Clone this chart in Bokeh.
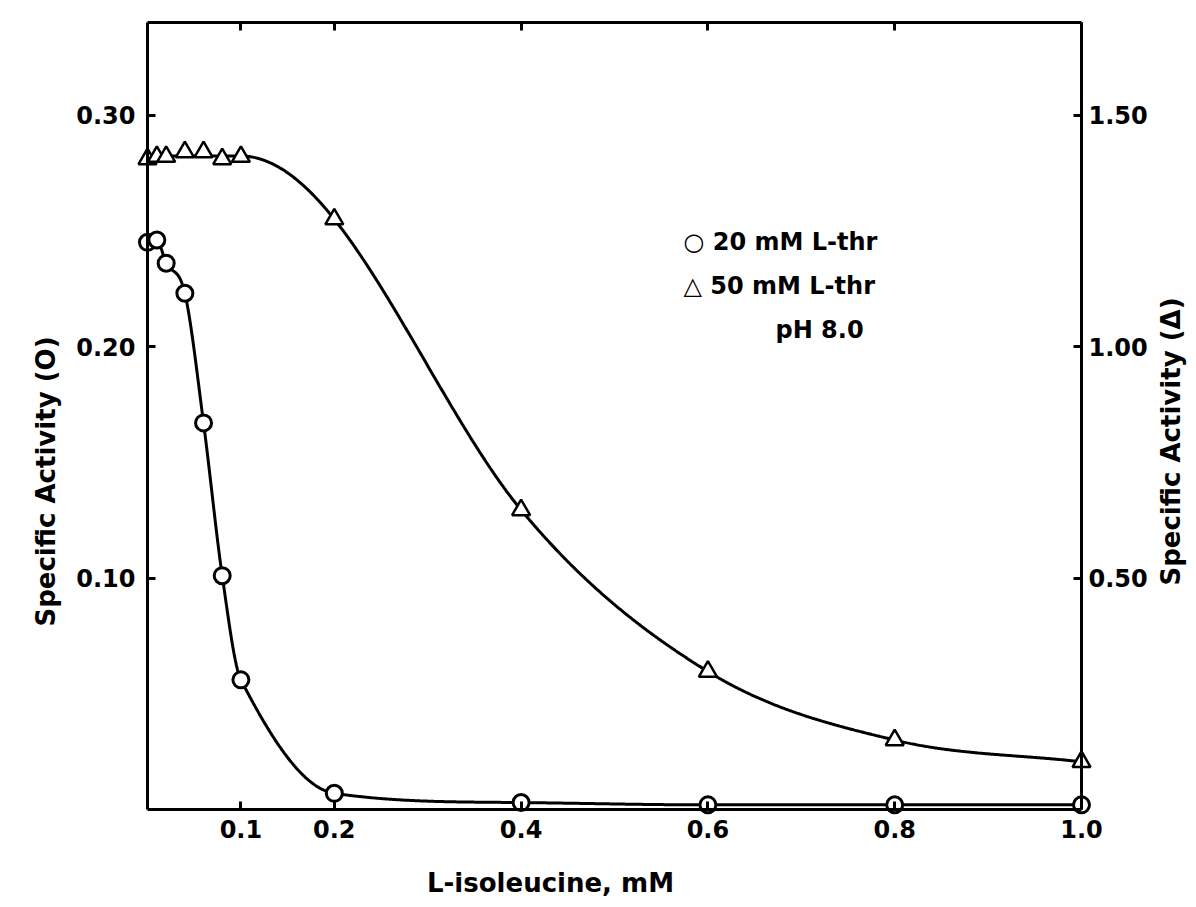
import numpy as np
from bokeh.plotting import figure
from bokeh.models import Range1d, LinearAxis, FixedTicker, PrintfTickFormatter, Label
from bokeh.embed import file_html
from bokeh.resources import INLINE

# ---------------- data ----------------
iso_20 = [0.0, 0.01, 0.02, 0.04, 0.06, 0.08, 0.10, 0.2, 0.4, 0.6, 0.8, 1.0]
act_20 = [0.245, 0.246, 0.236, 0.223, 0.167, 0.101, 0.056, 0.007, 0.003, 0.002, 0.002, 0.002]
iso_50 = [0.0, 0.01, 0.02, 0.04, 0.06, 0.08, 0.10, 0.2, 0.4, 0.6, 0.8, 1.0]
act_50 = [1.405, 1.41, 1.41, 1.42, 1.42, 1.405, 1.41, 1.275, 0.647, 0.298, 0.15, 0.103]

x_ticks = [0.1, 0.2, 0.4, 0.6, 0.8, 1.0]
left_ticks = [0.10, 0.20, 0.30]
right_ticks = [0.50, 1.00, 1.50]

x_title = "L-isoleucine, mM"
left_title = "Specific Activity (O)"
right_title = "Specific Activity (\u0394)"
legend_rows = ["\u25cb 20 mM L-thr", "\u25b3 50 mM L-thr", "pH 8.0"]

# ---------------- layout constants ----------------
W, H = 1196, 907
X0_PX, PX_PER_X = 147.0, 934.0      # screen x of iso = 0, pixels per mM
Y0_PX, PX_PER_Y = 809.0, 2315.0     # screen y of activity = 0, pixels per unit (left axis)
RIGHT_FACTOR = 5.0                  # right axis = 5 x left axis
Y_TOP = 0.34
FONT = "DejaVu Sans"


def data_x(px):
    return (px - X0_PX) / PX_PER_X


def data_y(py):
    return (Y0_PX - py) / PX_PER_Y


def monotone_curve(xk, yk, xs):
    xk = np.asarray(xk, float)
    yk = np.asarray(yk, float)
    n = len(xk)
    h = np.diff(xk)
    d = np.diff(yk) / h
    m = np.zeros(n)
    m[0] = d[0]
    m[-1] = d[-1]
    for k in range(1, n - 1):
        if d[k - 1] * d[k] <= 0:
            m[k] = 0.0
        else:
            m[k] = (yk[k + 1] - yk[k - 1]) / (xk[k + 1] - xk[k - 1])
    for k in range(n - 1):
        if d[k] == 0:
            m[k] = 0.0
            m[k + 1] = 0.0
            continue
        a = m[k] / d[k]
        b = m[k + 1] / d[k]
        if a < 0:
            m[k] = 0.0
            a = 0.0
        if b < 0:
            m[k + 1] = 0.0
            b = 0.0
        s = a * a + b * b
        if s > 9:
            tau = 3.0 / np.sqrt(s)
            m[k] = tau * a * d[k]
            m[k + 1] = tau * b * d[k]
    idx = np.clip(np.searchsorted(xk, xs, side="right") - 1, 0, n - 2)
    t = (xs - xk[idx]) / h[idx]
    h00 = 2 * t**3 - 3 * t**2 + 1
    h10 = t**3 - 2 * t**2 + t
    h01 = -2 * t**3 + 3 * t**2
    h11 = t**3 - t**2
    return h00 * yk[idx] + h10 * h[idx] * m[idx] + h01 * yk[idx + 1] + h11 * h[idx] * m[idx + 1]


xs = np.linspace(0.0, 1.0, 800)
curve_20 = monotone_curve(iso_20, act_20, xs)

a50x = np.asarray(iso_50)
a50y = np.asarray(act_50)
flat = a50x <= 0.10
mean_flat = a50y[flat].mean()
nodes_x = np.concatenate([[a50x[flat].min(), a50x[flat].max()], a50x[~flat]])
nodes_y = np.concatenate([[mean_flat, mean_flat], a50y[~flat]])
curve_50 = monotone_curve(nodes_x, nodes_y, xs)

x_start, x_end = data_x(0), data_x(W)
y_start, y_end = data_y(H), data_y(0)

p = figure(
    width=W, height=H,
    x_range=Range1d(x_start, x_end),
    y_range=Range1d(y_start, y_end),
    output_backend="svg", toolbar_location=None,
    min_border=0, min_border_left=0, min_border_right=0,
    min_border_top=0, min_border_bottom=0,
)
p.extra_y_ranges = {"right": Range1d(y_start * RIGHT_FACTOR, y_end * RIGHT_FACTOR)}
p.xgrid.visible = False
p.ygrid.visible = False
p.outline_line_color = None
p.background_fill_color = "white"
p.border_fill_color = "white"


def style(ax, standoff):
    ax.axis_line_width = 3
    ax.axis_line_color = "black"
    ax.major_tick_line_width = 3
    ax.major_tick_line_color = "black"
    ax.major_tick_in = 8
    ax.major_tick_out = 0
    ax.minor_tick_line_color = None
    ax.major_label_text_font = FONT
    ax.major_label_text_font_style = "bold"
    ax.major_label_text_font_size = "24px"
    ax.major_label_text_color = "black"
    ax.major_label_standoff = standoff


xa = p.xaxis[0]
style(xa, 10)
xa.ticker = FixedTicker(ticks=x_ticks)
xa.formatter = PrintfTickFormatter(format="%.1f")
xa.fixed_location = 0
xa.bounds = (0, 1.0)

ya = p.yaxis[0]
style(ya, 12)
ya.ticker = FixedTicker(ticks=left_ticks)
ya.formatter = PrintfTickFormatter(format="%.2f")
ya.fixed_location = 0
ya.bounds = (0, Y_TOP)

ra = LinearAxis(y_range_name="right")
style(ra, 7)
ra.ticker = FixedTicker(ticks=right_ticks)
ra.formatter = PrintfTickFormatter(format="%.2f")
ra.fixed_location = 1.0
ra.bounds = (0, Y_TOP * RIGHT_FACTOR)
p.add_layout(ra, "right")

ta = LinearAxis()
style(ta, 0)
ta.ticker = FixedTicker(ticks=x_ticks)
ta.major_label_text_color = None
ta.fixed_location = Y_TOP
ta.bounds = (0, 1.0)
p.add_layout(ta, "above")

# curves
p.line(xs, curve_20, line_color="black", line_width=3)
p.line(xs, curve_50, line_color="black", line_width=3, y_range_name="right")

# markers
p.scatter(iso_50, act_50, marker="triangle", size=18, line_width=2.5,
          line_color="black", fill_color="white", y_range_name="right")
p.scatter(iso_20, act_20, marker="circle", size=16, line_width=3,
          line_color="black", fill_color="white")

# axis titles
title_kw = dict(text_font=FONT, text_font_style="bold", text_font_size="26px",
                text_color="black", text_align="center", text_baseline="middle")
p.add_layout(Label(x=data_x(550), y=data_y(882), text=x_title, **title_kw))
p.add_layout(Label(x=data_x(45), y=data_y(481), text=left_title, angle=np.pi / 2, **title_kw))
p.add_layout(Label(x=data_x(1170), y=data_y(441), text=right_title, angle=np.pi / 2, **title_kw))

# legend block
leg_pos = [(683, 241), (683, 285), (775, 329)]
for (lx, ly), txt in zip(leg_pos, legend_rows):
    p.add_layout(Label(x=data_x(lx), y=data_y(ly), text=txt, text_align="left",
                       text_baseline="middle", text_font=FONT, text_font_style="bold",
                       text_font_size="24px", text_color="black"))

open("out.html", "w").write(file_html(p, INLINE))
